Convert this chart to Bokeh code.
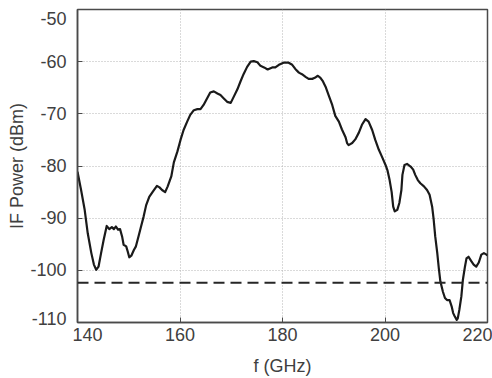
from bokeh.plotting import figure
from bokeh.models import Range1d, Span, FixedTicker
from bokeh.embed import file_html
from bokeh.resources import INLINE

# ---- data ----
freq_ghz = [140.0, 140.7, 141.4, 142.0, 142.7, 143.2, 143.65, 144.1, 144.6, 145.1,
            145.7, 146.2, 146.7, 147.1, 147.5, 147.9, 148.3, 148.7, 149.0, 149.5,
            149.8, 150.1, 150.5, 151.0, 151.4, 151.9, 152.4, 152.9, 153.4, 154.0,
            154.7, 155.5, 156.0, 156.5, 157.1, 157.6, 158.3, 158.8, 159.5, 160.1,
            160.7, 161.4, 162.0, 162.7, 163.4, 164.0, 164.6, 165.3, 165.9, 166.6,
            167.3, 167.9, 168.5, 169.2, 169.9, 170.5, 171.2, 171.8, 172.4, 173.1,
            173.8, 174.4, 175.1, 175.7, 176.4, 177.1, 178.0, 178.6, 179.3, 180.2,
            181.2, 181.9, 182.5, 183.2, 183.8, 184.5, 185.1, 185.8, 186.3, 186.9,
            187.4, 187.9, 188.4, 189.0, 189.7, 190.3, 191.0, 191.6, 192.3, 192.6,
            192.9, 193.6, 194.2, 194.9, 195.5, 196.2, 196.8, 197.5, 198.1, 198.8,
            199.4, 200.1, 200.5, 200.9, 201.3, 201.6, 201.9, 202.4, 202.8, 203.2,
            203.4, 203.8, 204.3, 205.0, 205.5, 205.9, 206.4, 206.9, 207.6, 208.2,
            208.7, 209.2, 209.5, 209.8, 210.2, 210.5, 210.8, 211.3, 211.7, 212.1,
            212.6, 213.0, 213.3, 213.6, 214.0, 214.2, 214.5, 214.9, 215.2, 215.6,
            215.9, 216.3, 216.8, 217.3, 217.8, 218.3, 218.8, 219.3, 219.8, 220.0]

if_power_dbm = [-81.1, -84.6, -88.4, -92.9, -96.7, -98.9, -99.9, -99.3, -96.7, -94.2,
                -91.5, -92.1, -91.7, -92.1, -91.6, -92.2, -92.1, -93.5, -95.1, -95.4,
                -96.4, -97.5, -97.2, -96.1, -95.4, -93.5, -91.6, -89.7, -87.5, -85.9,
                -84.9, -83.8, -84.1, -84.6, -85.0, -83.9, -82.0, -79.3, -77.2, -75.0,
                -73.1, -71.5, -70.2, -69.3, -69.1, -69.1, -68.3, -67.0, -65.9, -65.7,
                -66.1, -66.4, -67.0, -67.7, -67.9, -66.7, -65.3, -63.8, -62.4, -61.0,
                -60.0, -59.9, -60.1, -60.8, -61.1, -61.5, -61.1, -61.1, -60.6, -60.2,
                -60.2, -60.6, -61.4, -62.1, -62.4, -62.9, -63.3, -63.3, -63.1, -62.7,
                -63.1, -63.8, -64.8, -66.4, -68.3, -70.4, -71.5, -73.0, -74.5, -75.6,
                -76.0, -75.6, -74.9, -73.6, -72.1, -71.0, -71.5, -73.1, -75.0, -76.9,
                -78.2, -79.8, -80.9, -82.7, -85.0, -87.8, -88.7, -88.4, -87.1, -84.6,
                -81.7, -79.8, -79.6, -80.1, -80.7, -81.7, -82.7, -83.3, -83.9, -84.6,
                -85.5, -87.8, -90.3, -93.5, -96.7, -99.6, -102.1, -104.1, -105.3, -105.7,
                -105.7, -106.9, -108.2, -108.8, -109.5, -109.2, -107.6, -105.0, -101.8, -99.3,
                -97.7, -97.4, -98.2, -98.9, -99.3, -98.5, -97.0, -96.7, -97.0, -97.1]

noise_floor_dbm = -102.4

x_ticks = [140, 160, 180, 200, 220]
y_ticks = [-110, -100, -90, -80, -70, -60, -50]
x_label = "f (GHz)"
y_label = "IF Power (dBm)"

# ---- styling ----
FONT = "Liberation Sans"
FS = "18px"
TXT = "#404040"
AX = "#4a4a4a"
NB = "\u00a0"

p = figure(width=492, height=378, output_backend="svg", toolbar_location=None,
           x_range=Range1d(x_ticks[0], x_ticks[-1]),
           y_range=Range1d(y_ticks[0], y_ticks[-1]),
           min_border_left=77, min_border_right=5, min_border_top=9,
           min_border_bottom=55)
p.background_fill_color = "white"
p.border_fill_color = "white"
p.outline_line_color = AX
p.outline_line_width = 1.5

p.xaxis.ticker = FixedTicker(ticks=x_ticks)
p.yaxis.ticker = FixedTicker(ticks=y_ticks)

# tick labels; the edge ones are nudged inward as in the reference
x_over = {t: str(t) for t in x_ticks}
x_over[x_ticks[0]] = NB * 4 + str(x_ticks[0])
y_over = {t: str(t) for t in y_ticks}
y_over[y_ticks[-1]] = NB + "\n" + str(y_ticks[-1])
y_over[y_ticks[0]] = str(y_ticks[0]) + "\n" + NB
p.xaxis.major_label_overrides = x_over
p.yaxis.major_label_overrides = y_over
p.yaxis.major_label_text_line_height = 0.4

for ax in (p.xaxis[0], p.yaxis[0]):
    ax.axis_line_color = AX
    ax.axis_line_width = 1.5
    ax.major_tick_line_color = AX
    ax.major_tick_line_width = 1
    ax.major_tick_in = 5
    ax.major_tick_out = 0
    ax.minor_tick_line_color = None
    ax.major_label_text_font = FONT
    ax.major_label_text_font_size = FS
    ax.major_label_text_color = TXT
    ax.axis_label_text_font = FONT
    ax.axis_label_text_font_size = FS
    ax.axis_label_text_font_style = "normal"
    ax.axis_label_text_color = TXT

p.xaxis.axis_label = x_label
p.yaxis.axis_label = y_label
p.xaxis.major_label_standoff = 2
p.xaxis.axis_label_standoff = 8
p.yaxis.major_label_standoff = 11
p.yaxis.axis_label_standoff = 0

for g in (p.xgrid[0], p.ygrid[0]):
    g.grid_line_color = "#b4b4b4"
    g.grid_line_dash = "1 2"
    g.grid_line_width = 1

p.add_layout(Span(location=noise_floor_dbm, dimension="width",
                  line_color="#262626", line_width=2, line_dash="11 6"))

p.line(freq_ghz, if_power_dbm, line_color="#1a1a1a", line_width=2.2,
       line_join="round")

open("out.html", "w").write(file_html(p, INLINE))
